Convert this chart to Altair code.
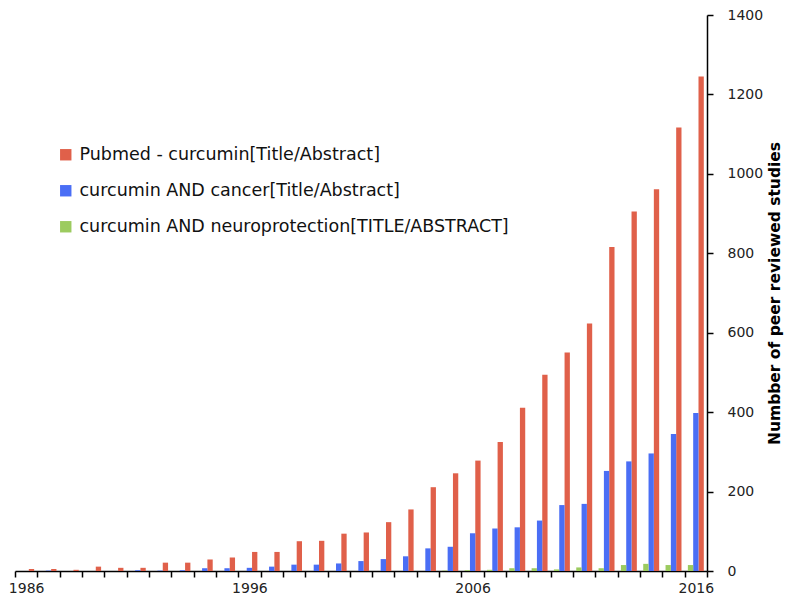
import altair as alt
import pandas as pd

years = list(range(1986, 2017))
pubmed = [5, 5, 3, 11, 8, 8, 21, 21, 29, 34, 48, 48, 75, 76, 94, 97, 123, 155, 211, 246,
          278, 325, 411, 494, 550, 623, 816, 905, 961, 1117, 1245]
cancer = [0, 1, 0, 0, 0, 2, 1, 2, 7, 7, 8, 11, 16, 16, 19, 25, 30, 37, 57, 61,
          95, 107, 110, 127, 166, 169, 252, 276, 296, 345, 398]
neuro = [0, 0, 0, 0, 0, 0, 0, 0, 0, 0, 0, 0, 0, 0, 0, 0, 0, 0, 0, 1,
         2, 3, 7, 7, 4, 9, 7, 15, 18, 15, 15]

series_names = [
    "Pubmed - curcumin[Title/Abstract]",
    "curcumin AND cancer[Title/Abstract]",
    "curcumin AND neuroprotection[TITLE/ABSTRACT]",
]
series_colors = ["#E0604A", "#4A6EF5", "#9CCB5F"]
bar_order = [series_names[2], series_names[1], series_names[0]]
y_ticks = [0, 200, 400, 600, 800, 1000, 1200, 1400]
label_years = [1986, 1996, 2006, 2016]

rows = []
for name, vals in zip(series_names, [pubmed, cancer, neuro]):
    for yr, v in zip(years, vals):
        rows.append({"year": yr, "series": name, "value": v})
df = pd.DataFrame(rows)

label_expr = "indexof([" + ",".join(str(v) for v in label_years) + "], datum.value) >= 0 ? datum.label : ''"

chart = alt.Chart(df).mark_bar().encode(
    x=alt.X(
        "year:O",
        scale=alt.Scale(paddingInner=0, paddingOuter=0),
        axis=alt.Axis(
            title=None,
            labelExpr=label_expr,
            labelAngle=0,
            tickBand="extent",
            tickSize=6,
            tickColor="#000000",
            tickWidth=1.5,
            domainColor="#000000",
            domainWidth=1.5,
            labelFont="DejaVu Sans",
            labelFontSize=14,
            labelColor="#222222",
            labelPadding=4,
        ),
    ),
    xOffset=alt.XOffset(
        "series:N",
        sort=bar_order,
        scale=alt.Scale(paddingOuter=0.6, paddingInner=0),
    ),
    y=alt.Y(
        "value:Q",
        scale=alt.Scale(domain=[0, 1400], nice=False),
        axis=alt.Axis(
            orient="right",
            values=y_ticks,
            format="d",
            grid=False,
            tickSize=6,
            tickColor="#000000",
            tickWidth=1.5,
            domainColor="#000000",
            domainWidth=1.5,
            labelFont="DejaVu Sans",
            labelFontSize=14,
            labelColor="#222222",
            labelPadding=14,
            title="Numbber of peer reviewed studies",
            titleFont="DejaVu Sans",
            titleFontSize=15.5,
            titleFontWeight="bold",
            titleColor="#000000",
            titleAngle=270,
            titlePadding=20,
        ),
    ),
    color=alt.Color(
        "series:N",
        scale=alt.Scale(domain=series_names, range=series_colors),
        legend=alt.Legend(
            title=None,
            orient="none",
            legendX=42,
            legendY=131,
            symbolType="square",
            symbolSize=130,
            symbolStrokeWidth=0,
            labelFont="DejaVu Sans",
            labelFontSize=17.5,
            labelColor="#111111",
            labelLimit=600,
            labelOffset=5,
            rowPadding=17,
            padding=0,
        ),
    ),
).properties(
    width=692,
    height=556,
    autosize=alt.AutoSizeParams(type="none"),
    padding={"left": 7, "top": 7, "right": 77, "bottom": 25},
).configure_view(stroke=None)

chart.save("out.html", embed_options={"renderer": "svg", "actions": False})
